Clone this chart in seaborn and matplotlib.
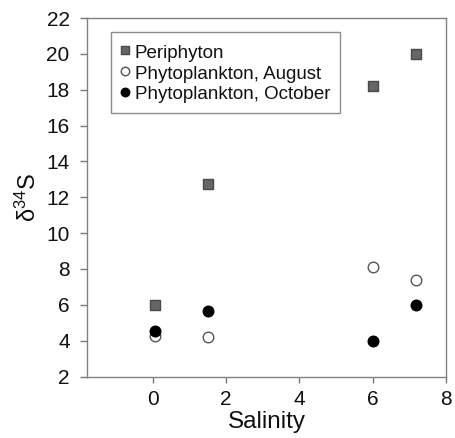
import matplotlib
matplotlib.use("Agg")
import matplotlib.pyplot as plt
import seaborn as sns
import pandas as pd

# Data
salinity = [0.05, 1.5, 6.0, 7.18]
periphyton = [5.97, 12.72, 18.2, 20.0]
phyto_august = [4.26, 4.22, 8.12, 7.37]
phyto_october = [4.54, 5.67, 3.99, 6.0]
series_names = ["Periphyton", "Phytoplankton, August", "Phytoplankton, October"]
xticks = [0, 2, 4, 6, 8]
yticks = [2, 4, 6, 8, 10, 12, 14, 16, 18, 20, 22]

sns.set_theme(style="white")
plt.rcParams["font.family"] = ["Liberation Sans", "DejaVu Sans"]
plt.rcParams["mathtext.fontset"] = "custom"
plt.rcParams["mathtext.rm"] = "Liberation Sans"
plt.rcParams["mathtext.it"] = "Liberation Sans:italic"
plt.rcParams["mathtext.default"] = "regular"

df = pd.concat([
    pd.DataFrame({"Salinity": salinity, "d34S": vals, "Series": name})
    for name, vals in zip(series_names, [periphyton, phyto_august, phyto_october])
])

fig = plt.figure(figsize=(4.56, 4.38), dpi=100)
ax = fig.add_axes([0.1908, 0.1404, 0.787, 0.8185])

styles = {
    "Periphyton": dict(marker="s", facecolor="#666666", edgecolor="#4a4a4a", s=42),
    "Phytoplankton, August": dict(marker="o", facecolor="white", edgecolor="#555555", s=58),
    "Phytoplankton, October": dict(marker="o", facecolor="black", edgecolor="black", s=58),
}
for name in series_names:
    st = styles[name]
    sub = df[df["Series"] == name]
    sns.scatterplot(data=sub, x="Salinity", y="d34S", ax=ax, label=name,
                    marker=st["marker"], color=st["facecolor"],
                    edgecolor=st["edgecolor"], linewidth=1.0, s=st["s"])

ax.set_xlim(-1.8, 8)
ax.set_ylim(2, 22)
ax.set_xticks(xticks)
ax.set_yticks(yticks)
ax.set_xlabel("Salinity", fontsize=17.5, labelpad=1, color="#111111")
ax.set_ylabel(r"$\delta^{34}$S", fontsize=17, labelpad=4, color="#111111")
ax.tick_params(axis="x", labelsize=15, length=4, width=1, color="#777777",
               direction="out", bottom=True, pad=6, labelcolor="#111111")
ax.tick_params(axis="y", labelsize=15, length=5, width=1, color="#777777",
               direction="out", left=True, pad=7.5, labelcolor="#111111")
for sp in ax.spines.values():
    sp.set_color("#808080")
    sp.set_linewidth(1.0)
    sp.set_visible(True)

leg = ax.legend(loc="upper left", bbox_to_anchor=(0.0669, 0.961), fontsize=13.5,
                frameon=True, fancybox=False, edgecolor="#707070",
                handletextpad=0.32, labelspacing=0.0, borderpad=0.5,
                handlelength=0.45, handleheight=1.32, borderaxespad=0,
                markerscale=0.8)
leg.get_frame().set_linewidth(1.0)
for t in leg.get_texts():
    t.set_color("#111111")

fig.savefig("out.png", dpi=100)
